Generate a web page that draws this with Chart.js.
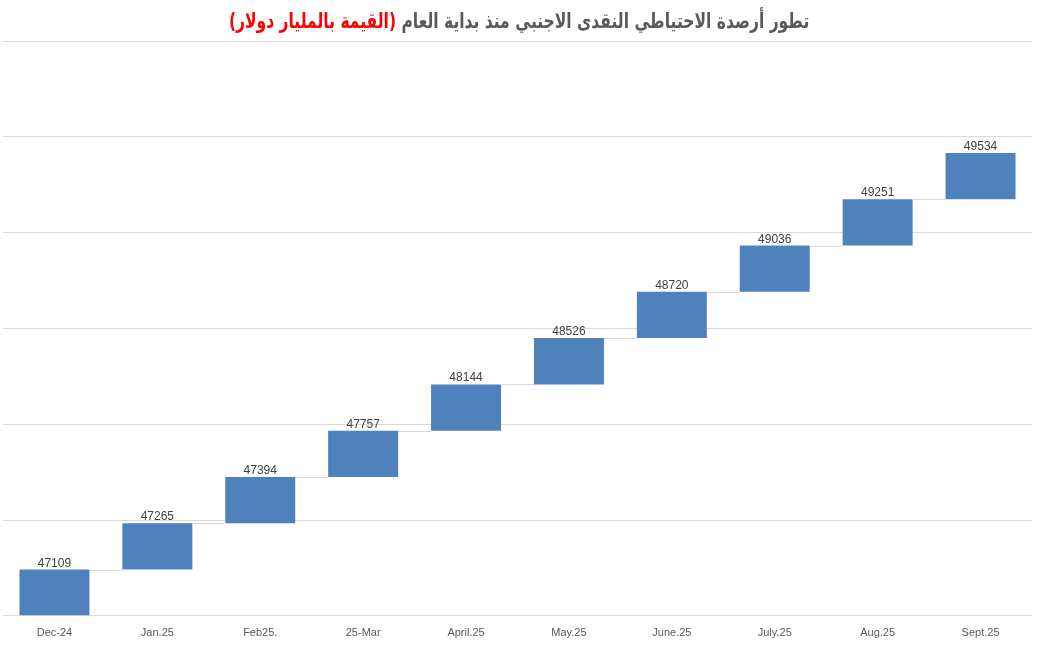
<!DOCTYPE html>
<html>
<head>
<meta charset="utf-8">
<script src="https://cdn.jsdelivr.net/npm/chart.js@4.4.1/dist/chart.umd.min.js"></script>
<style>
  html, body { margin: 0; padding: 0; background: #fff; }
  #wrap { position: relative; width: 1039px; height: 653px; }
  #title { position: absolute; top: 9px; left: 0; width: 1039px; text-align: center;
           font-family: "DejaVu Sans", sans-serif; font-weight: bold; font-size: 21px;
           color: #595959; direction: rtl; white-space: nowrap; z-index: 2;
           transform: scaleX(0.74); transform-origin: 518px 0; }
  #title .red { color: #ff0000; }
  canvas { position: absolute; top: 0; left: 0; }
</style>
</head>
<body>
<div id="wrap">
  <div id="title">تطور أرصدة الاحتياطي النقدى الاجنبي منذ بداية العام <span class="red">(القيمة بالمليار دولار)</span></div>
  <canvas id="c" width="1039" height="653"></canvas>
</div>
<script>
const categories = ['Dec-24', 'Jan.25', 'Feb25.', '25-Mar', 'April.25', 'May.25', 'June.25', 'July.25', 'Aug.25', 'Sept.25'];
const reserves = [47109, 47265, 47394, 47757, 48144, 48526, 48720, 49036, 49251, 49534];

// Each step of the staircase occupies one unit (the reference draws equal-height steps)
const steps = reserves.map((v, i) => [i, i + 1]);
const axisMax = 12.42;
const gridCount = 6;

const labelPlugin = {
  id: 'labels',
  afterDatasetsDraw(chart) {
    const ctx = chart.ctx;
    const meta = chart.getDatasetMeta(0);
    const yScale = chart.scales.y;
    ctx.save();
    ctx.strokeStyle = '#d9d9d9';
    ctx.lineWidth = 1;
    for (let i = 0; i < meta.data.length - 1; i++) {
      const a = meta.data[i], b = meta.data[i + 1];
      const y = Math.round(yScale.getPixelForValue(steps[i][1])) + 0.5;
      ctx.beginPath();
      ctx.moveTo(a.x + a.width / 2, y);
      ctx.lineTo(b.x - b.width / 2, y);
      ctx.stroke();
    }
    ctx.fillStyle = '#404040';
    ctx.font = '12px "Liberation Sans", Arial, sans-serif';
    ctx.textAlign = 'center';
    ctx.textBaseline = 'alphabetic';
    meta.data.forEach((bar, i) => {
      ctx.fillText(String(reserves[i]), bar.x, bar.y - 3);
    });
    ctx.restore();
  }
};

new Chart(document.getElementById('c'), {
  type: 'bar',
  data: {
    labels: categories,
    datasets: [{
      data: steps,
      backgroundColor: '#4f81bd',
      borderWidth: 0,
      categoryPercentage: 1,
      barPercentage: 0.68
    }]
  },
  options: {
    responsive: false,
    animation: false,
    layout: { padding: { left: 3, right: 7, top: 41, bottom: 10 } },
    plugins: { legend: { display: false }, tooltip: { enabled: false }, title: { display: false } },
    scales: {
      x: {
        grid: { display: false },
        border: { display: false },
        ticks: { color: '#595959', font: { size: 11, family: '"Liberation Sans", Arial, sans-serif' }, padding: 3, maxRotation: 0 }
      },
      y: {
        min: 0, max: axisMax,
        afterBuildTicks(scale) {
          scale.ticks = Array.from({ length: gridCount + 1 }, (_, k) => ({ value: axisMax * k / gridCount }));
        },
        grid: { color: '#d9d9d9', drawTicks: false, lineWidth: 1 },
        border: { display: false },
        ticks: { display: false }
      }
    }
  },
  plugins: [labelPlugin]
});
</script>
</body>
</html>
